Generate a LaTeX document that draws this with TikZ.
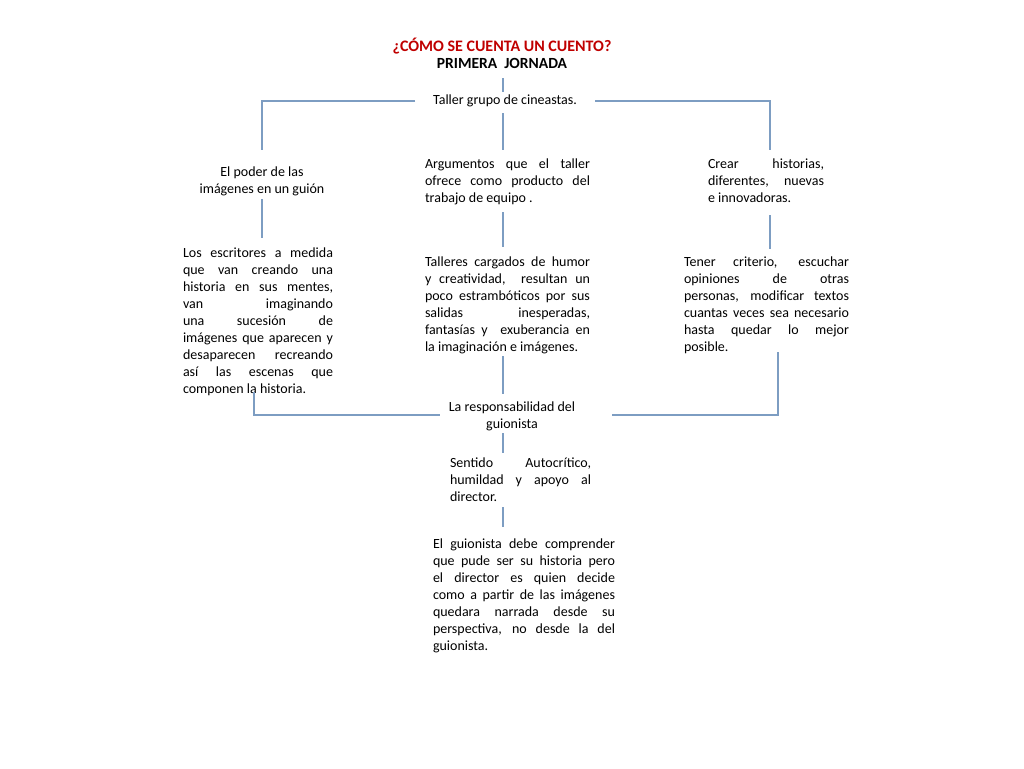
\documentclass[tikz,border=0pt]{standalone}
\usepackage{fontspec}
\setmainfont{Carlito}
\definecolor{linecol}{HTML}{7D9DC2}
\definecolor{titlered}{HTML}{C00000}
\begin{document}
\begin{tikzpicture}[x=1pt,y=-1pt,
  conn/.style={draw=linecol,line width=1.2pt},
  txt/.style={inner sep=0pt,outer sep=0pt,font=\fontsize{14}{17}\selectfont,
    align=justify,anchor=north,
    execute at begin node={\hyphenpenalty=10000\tolerance=10000\pretolerance=-1}},
  ctr/.style={inner sep=0pt,outer sep=0pt,font=\fontsize{14}{17}\selectfont,align=center}
]
\useasboundingbox (0,0) rectangle (1024,768);
\fill[white] (0,0) rectangle (1024,768);

% titles
\node[ctr,font=\fontsize{16}{19}\selectfont\bfseries,text=titlered] (title) at (502,46) {¿CÓMO SE CUENTA UN CUENTO?};
\node[ctr,font=\fontsize{15.5}{19}\selectfont\bfseries] (jornada) at (502,63) {PRIMERA\ \ JORNADA};
\node[ctr] (taller) at (505,101) {Taller grupo de cineastas.};

% column 1
\node[ctr] (poder) at (262,181.5) {El poder de las\\imágenes en un guión};
\node[txt,text width=150pt] (escritores) at (258,248) {Los escritores a medida\linebreak que van creando una\linebreak historia en sus mentes,\linebreak van imaginando\linebreak una sucesión de\linebreak imágenes que aparecen y\linebreak desaparecen recreando\linebreak así las escenas que\linebreak componen la historia.};

% column 2
\node[txt,text width=165pt] (argumentos) at (507.5,159) {Argumentos que el taller\linebreak ofrece como producto del\linebreak trabajo de equipo .};
\node[txt,text width=165pt] (talleres) at (507.5,257) {Talleres cargados de humor\linebreak y creatividad,\ \ resultan un\linebreak poco estrambóticos por sus\linebreak salidas inesperadas,\linebreak fantasías y\ \ exuberancia en\linebreak la imaginación e imágenes.};

% column 3
\node[txt,text width=116pt] (crear) at (766,159) {Crear historias,\linebreak diferentes, nuevas\linebreak e innovadoras.};
\node[txt,text width=165pt] (tener) at (766.5,257) {Tener criterio, escuchar\linebreak opiniones de otras\linebreak personas, modificar textos\linebreak cuantas veces sea necesario\linebreak hasta quedar lo mejor\linebreak posible.};

% bottom
\node[ctr] (resp) at (512,416.5) {La responsabilidad del\\guionista};
\node[txt,text width=141pt] (sentido) at (520.5,458) {Sentido Autocrítico,\linebreak humildad y apoyo al\linebreak director.};
\node[txt,text width=182pt] (guionista) at (524,539) {El guionista debe comprender\linebreak que pude ser su historia pero\linebreak el director es quien decide\linebreak como a partir de las imágenes\linebreak quedara narrada desde su\linebreak perspectiva, no desde la del\linebreak guionista.};

% connector end points
\coordinate (a1) at (503,78);  \coordinate (a2) at (503,92);
\coordinate (l1) at (415,101); \coordinate (l2) at (262,101); \coordinate (l3) at (262,150);
\coordinate (r1) at (595,101); \coordinate (r2) at (770,101); \coordinate (r3) at (770,150);
\coordinate (m1) at (503,113); \coordinate (m2) at (503,150);
\coordinate (p1) at (262,199); \coordinate (p2) at (262,238);
\coordinate (g1) at (503,212); \coordinate (g2) at (503,247);
\coordinate (c1) at (770,215); \coordinate (c2) at (770,249);
\coordinate (bl1) at (254,392); \coordinate (bl2) at (254,415); \coordinate (bl3) at (440,415);
\coordinate (br1) at (778,352); \coordinate (br2) at (778,415); \coordinate (br3) at (612,415);
\coordinate (t1) at (503,356); \coordinate (t2) at (503,394);
\coordinate (s1) at (503,433); \coordinate (s2) at (503,453);
\coordinate (d1) at (503,507); \coordinate (d2) at (503,527);

\draw[conn] (a1) -- (a2);
\draw[conn] (l1) -- (l2) -- (l3);
\draw[conn] (r1) -- (r2) -- (r3);
\draw[conn] (m1) -- (m2);
\draw[conn] (p1) -- (p2);
\draw[conn] (g1) -- (g2);
\draw[conn] (c1) -- (c2);
\draw[conn] (bl1) -- (bl2) -- (bl3);
\draw[conn] (br1) -- (br2) -- (br3);
\draw[conn] (t1) -- (t2);
\draw[conn] (s1) -- (s2);
\draw[conn] (d1) -- (d2);
\end{tikzpicture}
\end{document}
